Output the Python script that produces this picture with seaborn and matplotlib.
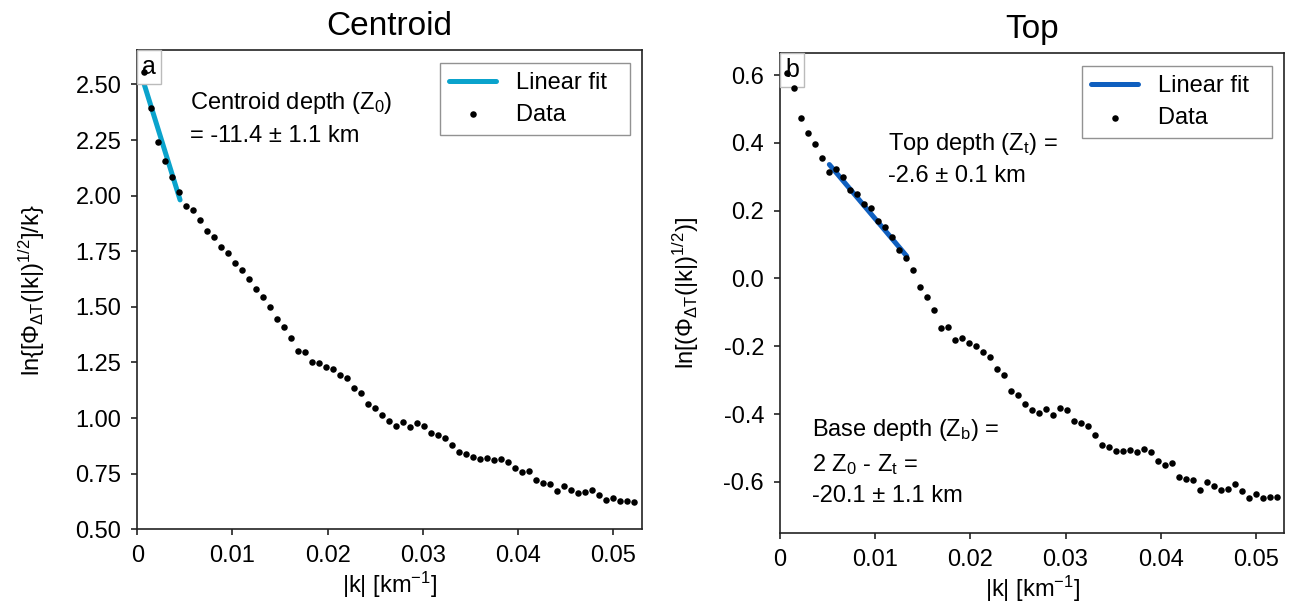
import numpy as np
import pandas as pd
import matplotlib
matplotlib.use("Agg")
import matplotlib.pyplot as plt
import seaborn as sns
from matplotlib.offsetbox import AnchoredText

# ---------------- data ----------------
k_km = [0.00074, 0.00147, 0.00221, 0.00294, 0.00368, 0.00441, 0.00515, 0.00589, 0.00662, 0.00736,
        0.00809, 0.00883, 0.00956, 0.01030, 0.01104, 0.01177, 0.01251, 0.01324, 0.01398, 0.01471,
        0.01545, 0.01619, 0.01692, 0.01766, 0.01839, 0.01913, 0.01986, 0.02060, 0.02134, 0.02207,
        0.02281, 0.02354, 0.02428, 0.02501, 0.02575, 0.02649, 0.02722, 0.02796, 0.02869, 0.02943,
        0.03016, 0.03090, 0.03164, 0.03237, 0.03311, 0.03384, 0.03458, 0.03531, 0.03605, 0.03679,
        0.03752, 0.03826, 0.03899, 0.03973, 0.04046, 0.04120, 0.04193, 0.04267, 0.04341, 0.04414,
        0.04488, 0.04561, 0.04635, 0.04708, 0.04782, 0.04856, 0.04929, 0.05003, 0.05076, 0.05150,
        0.05223]

centroid_vals = [2.555, 2.396, 2.243, 2.156, 2.085, 2.018, 1.954, 1.936, 1.891, 1.840,
                 1.814, 1.771, 1.744, 1.696, 1.665, 1.625, 1.579, 1.546, 1.501, 1.444,
                 1.408, 1.362, 1.302, 1.297, 1.254, 1.249, 1.231, 1.219, 1.194, 1.179,
                 1.134, 1.112, 1.062, 1.047, 1.014, 0.987, 0.966, 0.984, 0.959, 0.979,
                 0.963, 0.932, 0.925, 0.912, 0.879, 0.848, 0.837, 0.825, 0.817, 0.819,
                 0.810, 0.815, 0.804, 0.777, 0.759, 0.762, 0.720, 0.707, 0.705, 0.671,
                 0.696, 0.677, 0.663, 0.666, 0.678, 0.654, 0.630, 0.639, 0.626, 0.627, 0.621]

top_vals = [0.606, 0.562, 0.474, 0.430, 0.397, 0.356, 0.315, 0.324, 0.299, 0.261,
            0.250, 0.221, 0.209, 0.169, 0.152, 0.121, 0.083, 0.060, 0.024, -0.026,
            -0.054, -0.094, -0.147, -0.144, -0.181, -0.176, -0.191, -0.200, -0.218, -0.231,
            -0.267, -0.284, -0.331, -0.343, -0.370, -0.389, -0.397, -0.384, -0.404, -0.381,
            -0.389, -0.421, -0.426, -0.435, -0.463, -0.490, -0.496, -0.509, -0.510, -0.505,
            -0.511, -0.504, -0.512, -0.539, -0.551, -0.545, -0.586, -0.593, -0.595, -0.625,
            -0.601, -0.613, -0.625, -0.620, -0.607, -0.628, -0.648, -0.637, -0.648, -0.644, -0.646]

centroid_fit_k = [0.00060, 0.00450]
centroid_fit_v = [2.519, 1.981]
top_fit_k = [0.00518, 0.01331]
top_fit_v = [0.336, 0.066]

x_ticks = [0, 0.01, 0.02, 0.03, 0.04, 0.05]
x_tick_labels = ["0", "0.01", "0.02", "0.03", "0.04", "0.05"]
centroid_y_ticks = [0.50, 0.75, 1.00, 1.25, 1.50, 1.75, 2.00, 2.25, 2.50]
top_y_ticks = [-0.6, -0.4, -0.2, 0.0, 0.2, 0.4, 0.6]

# ---------------- style ----------------
sns.set_style("ticks")
plt.rcParams["font.family"] = ["Liberation Sans", "DejaVu Sans"]
plt.rcParams["mathtext.default"] = "regular"
plt.rcParams["axes.unicode_minus"] = False
plt.rcParams["axes.edgecolor"] = "#222222"
plt.rcParams["axes.linewidth"] = 1.2
plt.rcParams["text.color"] = "black"
plt.rcParams["axes.labelcolor"] = "black"
plt.rcParams["xtick.color"] = "#222222"
plt.rcParams["ytick.color"] = "#222222"
plt.rcParams["xtick.labelcolor"] = "black"
plt.rcParams["ytick.labelcolor"] = "black"

FS = 17
fig = plt.figure(figsize=(12.96, 6.04), dpi=100)
ax1 = fig.add_axes([0.1059, 0.1237, 0.3892, 0.7935])
ax2 = fig.add_axes([0.6019, 0.1180, 0.3891, 0.7937])

df_c = pd.DataFrame({"k": k_km, "v": centroid_vals})
df_t = pd.DataFrame({"k": k_km, "v": top_vals})
fit_c = pd.DataFrame({"k": centroid_fit_k, "v": centroid_fit_v})
fit_t = pd.DataFrame({"k": top_fit_k, "v": top_fit_v})


def panel(ax, df, fit, fitcolor, label, title, ylabel, yticks, ylim, yfmt,
          legend_anchor, ylabelpad):
    sns.lineplot(data=fit, x="k", y="v", ax=ax, color=fitcolor, linewidth=3.6,
                 label="Linear fit", zorder=3)
    sns.scatterplot(data=df, x="k", y="v", ax=ax, color="black", s=22, linewidth=0,
                    label="Data", zorder=6)
    ax.set_xlim(0, 0.053)
    ax.set_ylim(*ylim)
    ax.set_xticks(x_ticks)
    ax.set_xticklabels(x_tick_labels)
    ax.set_yticks(yticks)
    ax.set_yticklabels([yfmt.format(t) for t in yticks])
    ax.tick_params(axis="both", labelsize=FS, length=4, width=1.2, direction="out",
                   pad=7.5, top=False, right=False)
    ax.set_xlabel(r"|k| [km$^{-1}$]", fontsize=FS, labelpad=2)
    ax.set_ylabel(ylabel, fontsize=FS, labelpad=ylabelpad)
    ax.set_title(title, fontsize=24, pad=11)
    for sp in ax.spines.values():
        sp.set_visible(True)
    leg = ax.legend(loc="upper right", bbox_to_anchor=legend_anchor, borderaxespad=0,
                    fontsize=FS, frameon=True, fancybox=False, handlelength=2.0,
                    handletextpad=0.85, borderpad=0.4, labelspacing=0.4, markerscale=1.0)
    leg.get_frame().set_edgecolor("#777777")
    leg.get_frame().set_linewidth(1.0)
    # widen the frame on the right like the reference (extra space after text)
    for t in leg.get_texts():
        t.set_text(t.get_text() + "  ")
    at = AnchoredText(label, loc="upper left", borderpad=0, pad=0.2,
                      prop=dict(size=18), frameon=True)
    at.patch.set_edgecolor("#bbbbbb")
    at.patch.set_linewidth(1.0)
    at.set_zorder(4)
    ax.add_artist(at)


panel(ax1, df_c, fit_c, "#0AA3CC", "a", "Centroid",
      r"ln{[$\Phi_{\Delta T}$(|k|)$^{1/2}$]/k}", centroid_y_ticks, (0.5, 2.655),
      "{:.2f}", (0.977, 0.9735), 20)
panel(ax2, df_t, fit_t, "#0F5FBF", "b", "Top",
      r"ln[($\Phi_{\Delta T}$(|k|)$^{1/2}$)]", top_y_ticks, (-0.75, 0.664),
      "{:.1f}", (0.9756, 0.9735), 16)

ax1.text(0.0055, 2.475, "Centroid depth ($Z_0$)\n= -11.4 ± 1.1 km", fontsize=FS,
         va="top", ha="left", linespacing=1.5)
ax2.text(0.01134, 0.435, "Top depth ($Z_t$) =\n-2.6 ± 0.1 km", fontsize=FS,
         va="top", ha="left", linespacing=1.5)
ax2.text(0.00333, -0.41, "Base depth ($Z_b$) =\n2 $Z_0$ - $Z_t$ =\n-20.1 ± 1.1 km",
         fontsize=FS, va="top", ha="left", linespacing=1.45)

fig.savefig("out.png", dpi=100)
